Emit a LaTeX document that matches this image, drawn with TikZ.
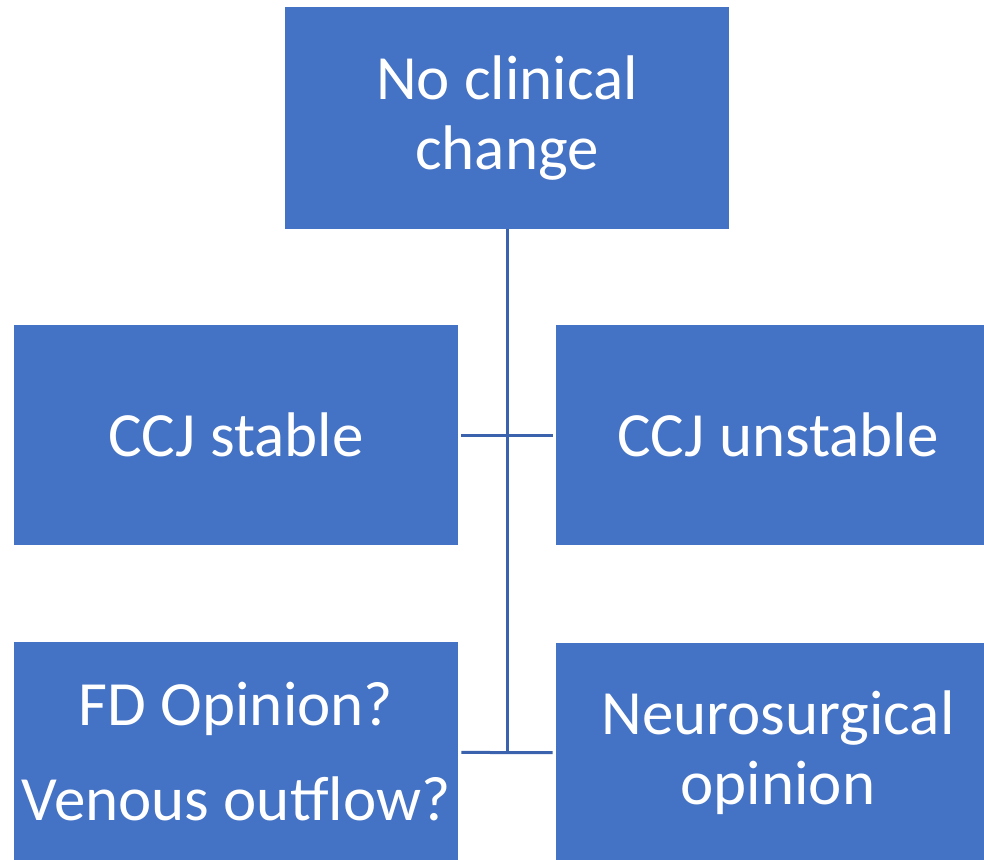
\documentclass[tikz,border=0pt]{standalone}
\usepackage{fontspec}
\setmainfont{Carlito}
\usepackage{tikz}
\usepackage{xcolor}
\definecolor{boxblue}{HTML}{4472C4}
\definecolor{lineblue}{HTML}{3B62AC}

\begin{document}
\begin{tikzpicture}[x=0.5pt,y=-0.5pt,
  box/.style={fill=boxblue,text=white,inner sep=0pt,align=center,
    font=\fontsize{31.5}{35}\selectfont},
  link/.style={draw=lineblue,line width=1.5pt}]
\useasboundingbox (0,0) rectangle (984,859);
\node[box,minimum width=222pt,minimum height=111pt] (top) at (507,118) {No clinical\\change};
\node[box,minimum width=222pt,minimum height=110pt] (stable) at (236,435) {CCJ stable};
\node[box,minimum width=214pt,minimum height=110pt] (unstable) at (770,435) {\hspace*{8pt}CCJ unstable};
\node[box,minimum width=222pt,minimum height=110pt] (fdop) at (236,752) {FD Opinion?\\[12.5pt]Venous outflow?};
\node[box,minimum width=214pt,minimum height=110pt] (neuro) at (770,753) {\hspace*{8pt}Neurosurgical\\\hspace*{8pt}opinion};
\coordinate (jn) at (507,753);
\draw[link] (top.south) -- (jn);
\draw[link,shorten <=1.5pt,shorten >=1.5pt] (stable) -- (unstable);
\draw[link,shorten <=1.5pt,shorten >=1.5pt] (fdop) -- (neuro);
\end{tikzpicture}
\end{document}
